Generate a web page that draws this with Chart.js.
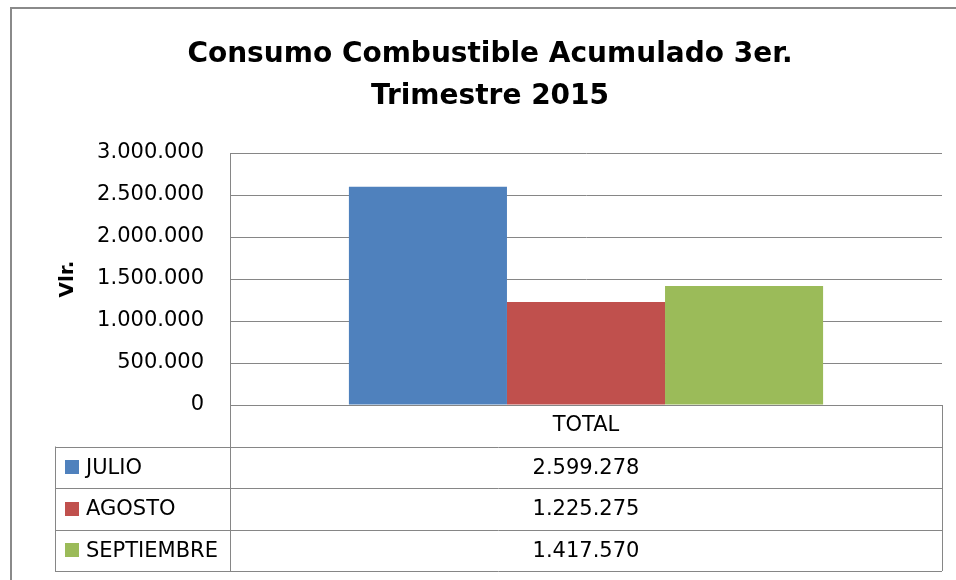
<!DOCTYPE html>
<html>
<head>
<meta charset="utf-8">
<script src="https://cdn.jsdelivr.net/npm/chart.js@4"></script>
<style>
  html, body { margin: 0; padding: 0; background: #fff; }
  #wrap { width: 956px; height: 580px; }
</style>
</head>
<body>
<div id="wrap"><canvas id="barChart" width="956" height="580"></canvas></div>
<script>
// Chart data
const categories = ['TOTAL'];
const seriesNames = ['JULIO', 'AGOSTO', 'SEPTIEMBRE'];
const seriesValues = [[2599278], [1225275], [1417570]];
const seriesColors = ['#4F81BD', '#C0504D', '#9BBB59'];
const yTicks = [0, 500000, 1000000, 1500000, 2000000, 2500000, 3000000];

const titleLines = ['Consumo Combustible Acumulado 3er.', 'Trimestre 2015'];
const axisTitle = 'Vlr.';

const lineGray = '#868686';
const labelFont = { family: 'DejaVu Sans', size: 21 };

// Excel style number: 2.599.278
function fmt(v) {
    return String(v).replace(/\B(?=(\d{3})+(?!\d))/g, '.');
}

// Outer chart frame
const framePlugin = {
    id: 'frame',
    beforeDraw(chart) {
        const ctx = chart.ctx;
        ctx.save();
        ctx.strokeStyle = '#8a8a8a';
        ctx.lineWidth = 2;
        ctx.strokeRect(11, 8, 2000, 2000);
        ctx.restore();
    }
};

// Data table under the plot (Excel style)
const dataTablePlugin = {
    id: 'dataTable',
    afterDraw(chart) {
        const ctx = chart.ctx;
        const area = chart.chartArea;
        const xAxis = chart.scales.x;
        const headerBottom = xAxis.bottom;
        const rowH = headerBottom - area.bottom;
        const tableLeft = 55;
        const n = chart.data.datasets.length;
        const tableBottom = headerBottom + rowH * n;

        ctx.save();
        ctx.strokeStyle = lineGray;
        ctx.lineWidth = 1;
        ctx.beginPath();
        // horizontal lines
        ctx.moveTo(area.left, Math.round(area.bottom) + 0.5);
        ctx.lineTo(area.right, Math.round(area.bottom) + 0.5);
        for (let i = 0; i <= n; i++) {
            const y = Math.round(headerBottom + rowH * i) + 0.5;
            ctx.moveTo(tableLeft, y);
            ctx.lineTo(area.right, y);
        }
        // vertical lines
        ctx.moveTo(Math.round(area.left) + 0.5, area.bottom);
        ctx.lineTo(Math.round(area.left) + 0.5, tableBottom);
        ctx.moveTo(Math.round(area.right) + 0.5, area.bottom);
        ctx.lineTo(Math.round(area.right) + 0.5, tableBottom);
        ctx.moveTo(tableLeft + 0.5, headerBottom);
        ctx.lineTo(tableLeft + 0.5, tableBottom);
        ctx.stroke();

        ctx.font = labelFont.size + 'px "' + labelFont.family + '"';
        ctx.textBaseline = 'middle';
        chart.data.datasets.forEach((ds, i) => {
            const yMid = headerBottom + rowH * i + rowH / 2;
            // legend key
            ctx.fillStyle = ds.backgroundColor;
            ctx.fillRect(65, Math.round(yMid - 7), 14, 14);
            ctx.fillStyle = '#000';
            ctx.textAlign = 'left';
            ctx.fillText(ds.label, 86, yMid + 1);
            // values per category
            chart.data.labels.forEach((lab, j) => {
                ctx.textAlign = 'center';
                ctx.fillText(fmt(ds.data[j]), xAxis.getPixelForValue(j), yMid + 1);
            });
        });
        ctx.restore();
    }
};

function initializeChart() {
    const ctx = document.getElementById('barChart').getContext('2d');

    const datasets = seriesNames.map((name, i) => ({
        label: name,
        data: seriesValues[i],
        backgroundColor: seriesColors[i],
        borderWidth: 0,
        categoryPercentage: 0.666,
        barPercentage: 1.0
    }));

    new Chart(ctx, {
        type: 'bar',
        data: { labels: categories, datasets: datasets },
        options: {
            responsive: false,
            animation: false,
            layout: { padding: { left: 38, right: 14, top: 0, bottom: 133.5 } },
            plugins: {
                legend: { display: false },
                tooltip: { enabled: false },
                title: {
                    display: true,
                    text: titleLines,
                    color: '#000',
                    font: { family: 'DejaVu Sans', size: 28, weight: 'bold', lineHeight: 1.5 },
                    padding: { top: 34, bottom: 35 }
                }
            },
            scales: {
                x: {
                    grid: { display: false, drawTicks: false },
                    border: { display: false },
                    ticks: { color: '#000', font: labelFont, padding: 8 },
                    afterFit(scale) { scale.height = 41.5; }
                },
                y: {
                    min: 0,
                    max: 3000000,
                    afterBuildTicks(scale) {
                        scale.ticks = yTicks.map(v => ({ value: v }));
                    },
                    grid: { color: lineGray, drawTicks: false },
                    border: { display: true, color: lineGray },
                    ticks: {
                        color: '#000',
                        font: labelFont,
                        padding: 26,
                        callback: function(value) {
                            return fmt(value);
                        }
                    },
                    title: {
                        display: true,
                        text: axisTitle,
                        color: '#000',
                        font: { family: 'DejaVu Sans', size: 20, weight: 'bold' },
                        padding: { top: 18, bottom: 0 }
                    },
                    afterFit(scale) { scale.width = 192; }
                }
            }
        },
        plugins: [framePlugin, dataTablePlugin]
    });
}

document.addEventListener('DOMContentLoaded', initializeChart);
</script>
</body>
</html>
